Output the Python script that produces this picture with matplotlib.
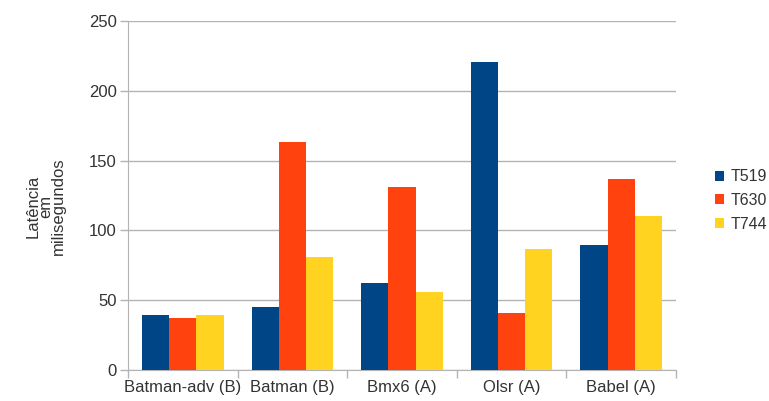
import matplotlib
matplotlib.use("Agg")
import matplotlib.pyplot as plt
import numpy as np

categories = ["Batman-adv (B)", "Batman (B)", "Bmx6 (A)", "Olsr (A)", "Babel (A)"]
series_names = ["T519", "T630", "T744"]
t519 = [39.3, 45.2, 62, 220.7, 89.3]
t630 = [37.0, 163.6, 131, 40.5, 137]
t744 = [39.2, 80.7, 56, 86.4, 110]
yticks = [0, 50, 100, 150, 200, 250]

colors = ["#004586", "#ff420e", "#ffd320"]
plt.rcParams['font.family'] = ['Liberation Sans', 'DejaVu Sans']

fig = plt.figure(figsize=(7.69, 4.01), dpi=100)
ax = fig.add_axes([128/769, 1-370/401, (676-128)/769, (370-21)/401])

x = np.arange(len(categories))
w = 0.248
for i, (vals, name) in enumerate(zip([t519, t630, t744], series_names)):
    ax.bar(x + (i-1)*w, vals, width=w, color=colors[i], label=name, zorder=3)

ax.set_xlim(-0.5, len(categories)-0.5)
ax.set_ylim(0, 250)
ax.set_yticks(yticks)
ax.yaxis.grid(True, color="#b3b3b3", linewidth=1, zorder=0)
ax.set_xticks(x)
ax.set_xticklabels(categories, fontsize=12, color="#333333")
ax.tick_params(axis='x', length=0, pad=7)
ax.set_xticks(np.arange(-0.5, len(categories), 1), minor=True)
ax.tick_params(axis='x', which='minor', length=6, color="#b3b3b3", width=1)
ax.tick_params(axis='y', length=6, color="#b3b3b3", width=1, labelsize=12, labelcolor="#333333", pad=2)
for s in ["top", "right"]:
    ax.spines[s].set_visible(False)
for s in ["left", "bottom"]:
    ax.spines[s].set_color("#b3b3b3")

fig.text(0.059, 0.486, "Latência\nem\nmilisegundos", rotation=90, ha="center", va="center",
         fontsize=12, color="#333333", multialignment="center", linespacing=0.8)

leg = fig.legend(loc="center left", bbox_to_anchor=(0.921, 0.50), frameon=False,
                 fontsize=11.5, handlelength=0.6, handleheight=0.6, handletextpad=0.4,
                 labelspacing=0.55, borderaxespad=0)
for t in leg.get_texts():
    t.set_color("#333333")

fig.savefig("out.png", dpi=100)
